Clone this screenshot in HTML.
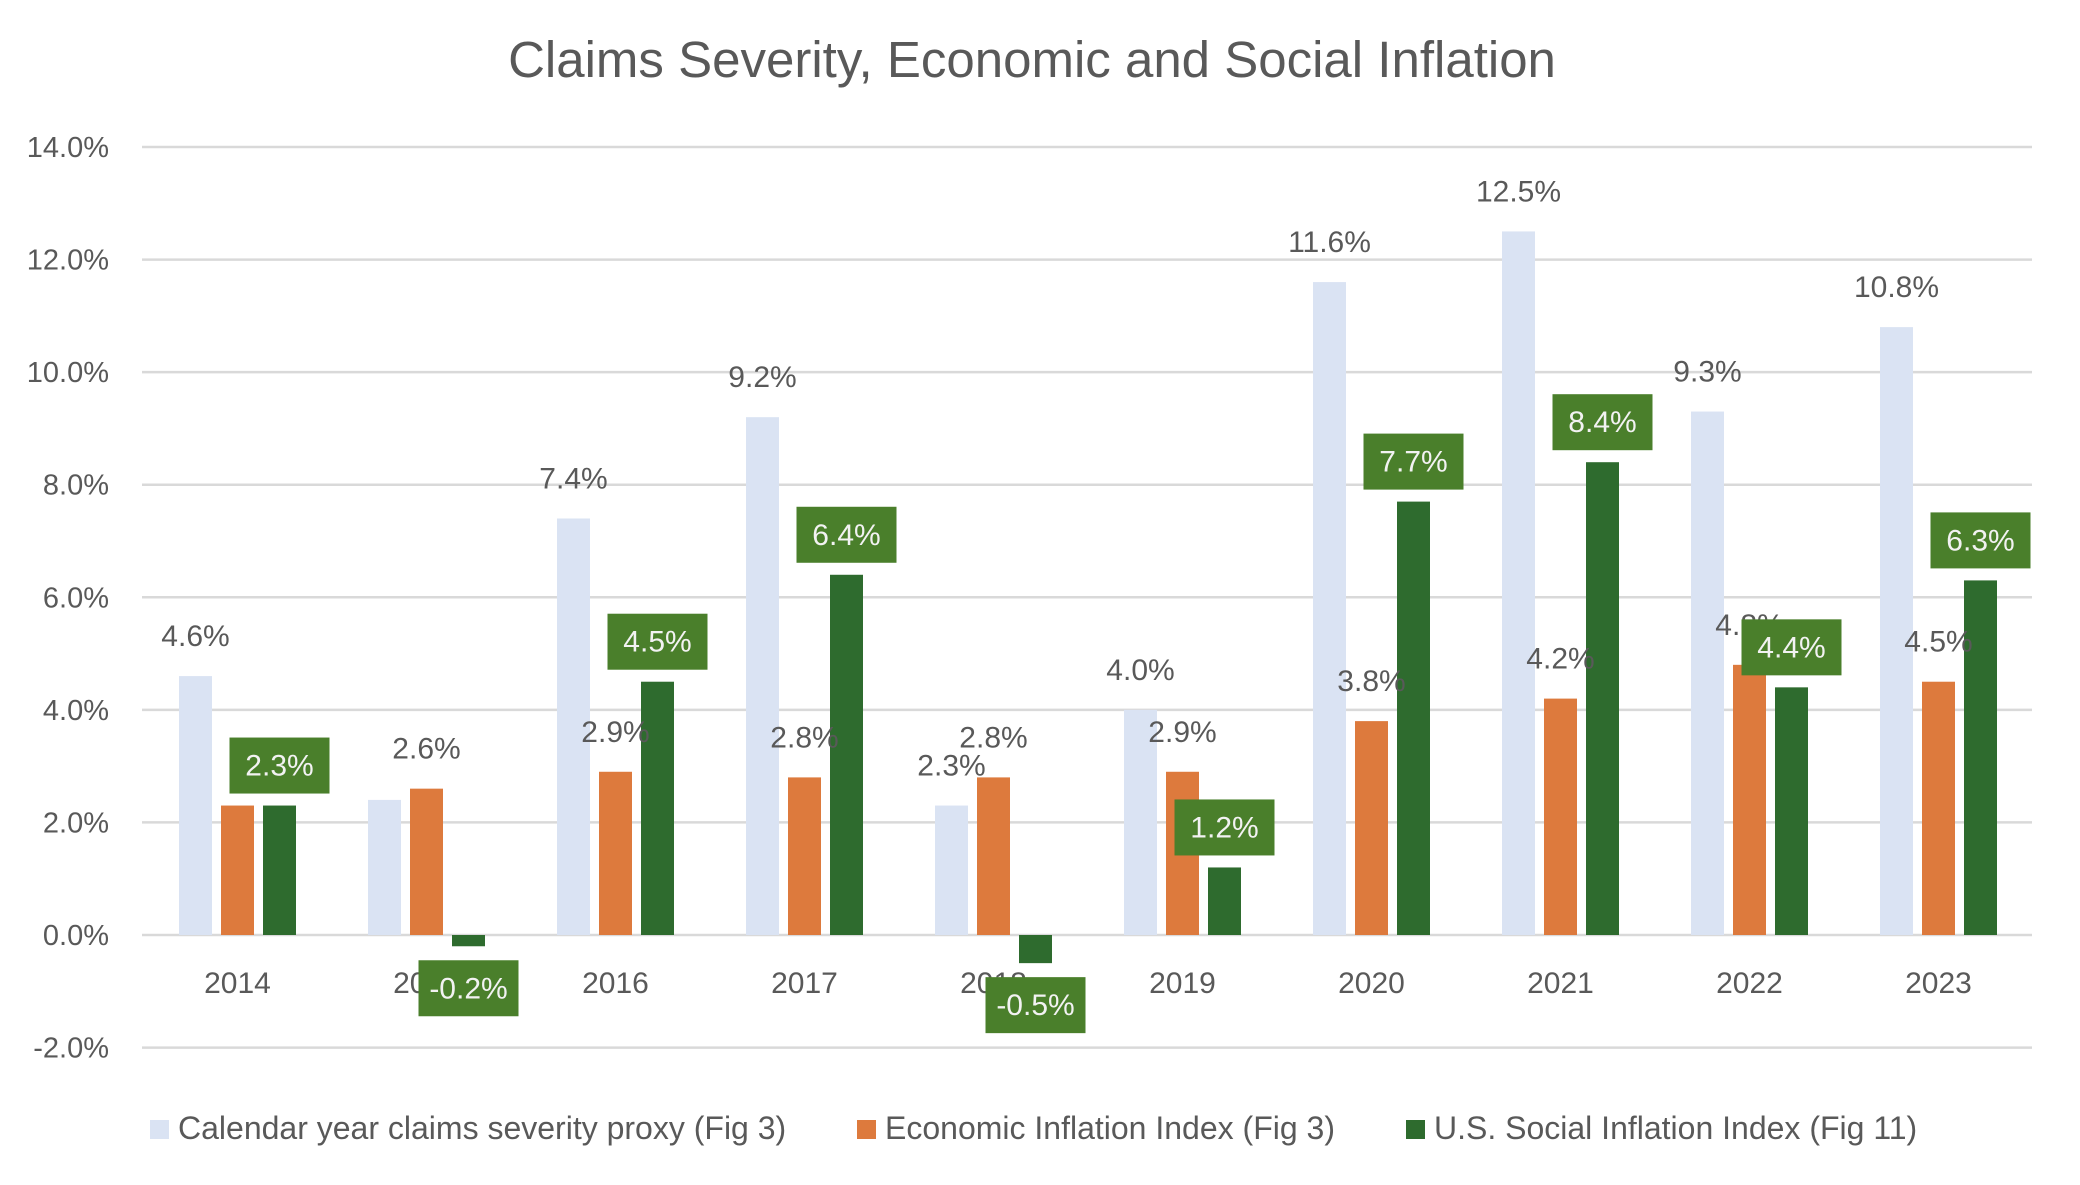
<!DOCTYPE html>
<html><head><meta charset="utf-8"><style>
html,body{margin:0;padding:0;background:#fff}
svg{display:block;font-family:"Liberation Sans",sans-serif}
</style></head><body>
<svg id="chart" width="2080" height="1185" viewBox="0 0 2080 1185">
<text x="1032" y="77" text-anchor="middle" font-size="51" fill="#595959">Claims Severity, Economic and Social Inflation</text>
<g id="grid"></g><g id="bars"></g><g id="labels"></g><g id="legend"></g>
</svg>
<script>
const categories=["2014","2015","2016","2017","2018","2019","2020","2021","2022","2023"];
const severity=[4.6,2.4,7.4,9.2,2.3,4.0,11.6,12.5,9.3,10.8];
const economic=[2.3,2.6,2.9,2.8,2.8,2.9,3.8,4.2,4.8,4.5];
const social=[2.3,-0.2,4.5,6.4,-0.5,1.2,7.7,8.4,4.4,6.3];
const severityLabelShown=[1,0,1,1,1,1,1,1,1,1];
const economicLabelShown=[0,1,1,1,1,1,1,1,1,1];
const yTicks=[-2,0,2,4,6,8,10,12,14];
const NS="http://www.w3.org/2000/svg";
const y0=935, pxPer=(935-147)/14;
function yS(v){return y0-v*pxPer;}
function xS(i){return 237.5+i*189;}
function mk(tag,attrs,parent,txt){const e=document.createElementNS(NS,tag);for(const k in attrs)e.setAttribute(k,attrs[k]);if(txt!==undefined)e.textContent=txt;document.getElementById(parent).appendChild(e);return e;}
yTicks.forEach(t=>{
  const l=mk("line",{x1:142,x2:2032,y1:yS(t),y2:yS(t),stroke:"#d9d9d9","stroke-width":2.5},"grid");
  
  
  const tx=mk("text",{x:109,y:yS(t)+10,"text-anchor":"end","font-size":29,fill:"#595959"},"grid",t.toFixed(1)+"%");
  
  
});
const series=[{d:severity,c:"#dae3f3",off:-42,n:"severity",show:severityLabelShown},{d:economic,c:"#dd7a3d",off:0,n:"economic",show:economicLabelShown},{d:social,c:"#2e6b2e",off:42,n:"social"}];
categories.forEach((c,i)=>{
  const cl=mk("text",{x:xS(i),y:993,"text-anchor":"middle","font-size":30,fill:"#595959"},"grid",c);
  
  
  series.forEach(s=>{
    const v=s.d[i],cx=xS(i)+s.off;
    const top=Math.min(yS(v),y0),h=Math.abs(yS(v)-y0);
    const r=mk("rect",{x:cx-16.5,y:top,width:33,height:h,fill:s.c},"bars");
    
    
  });
});
[series[0],series[1]].forEach(s=>{
  categories.forEach((c,i)=>{
    if(!s.show[i])return;
    const v=s.d[i],cx=xS(i)+s.off;
    const t=mk("text",{x:cx,y:yS(v)-30,"text-anchor":"middle","font-size":30,fill:"#595959"},"labels",v.toFixed(1)+"%");
    
    
  });
});
categories.forEach((c,i)=>{
  const v=social[i],cx=xS(i)+42;
  const cy=v>=0?yS(v)-40:yS(v)+42;
  const b=mk("rect",{x:cx-50,y:cy-28,width:100,height:56,fill:"#4a7f2b"},"labels");
  
  
  const t=mk("text",{x:cx,y:cy+10,"text-anchor":"middle","font-size":30,fill:"#f2f2f2"},"labels",v.toFixed(1)+"%");
  
  
});
const legendItems=[["Calendar year claims severity proxy (Fig 3)","#dae3f3",150],["Economic Inflation Index (Fig 3)","#dd7a3d",857],["U.S. Social Inflation Index (Fig 11)","#2e6b2e",1406]];
legendItems.forEach(li=>{
  const r=mk("rect",{x:li[2],y:1120,width:19,height:19,fill:li[1]},"legend");
  
  
  const t=mk("text",{x:li[2]+28,y:1139,"font-size":32,fill:"#595959"},"legend",li[0]);
  
  
});
</script>
</body></html>
